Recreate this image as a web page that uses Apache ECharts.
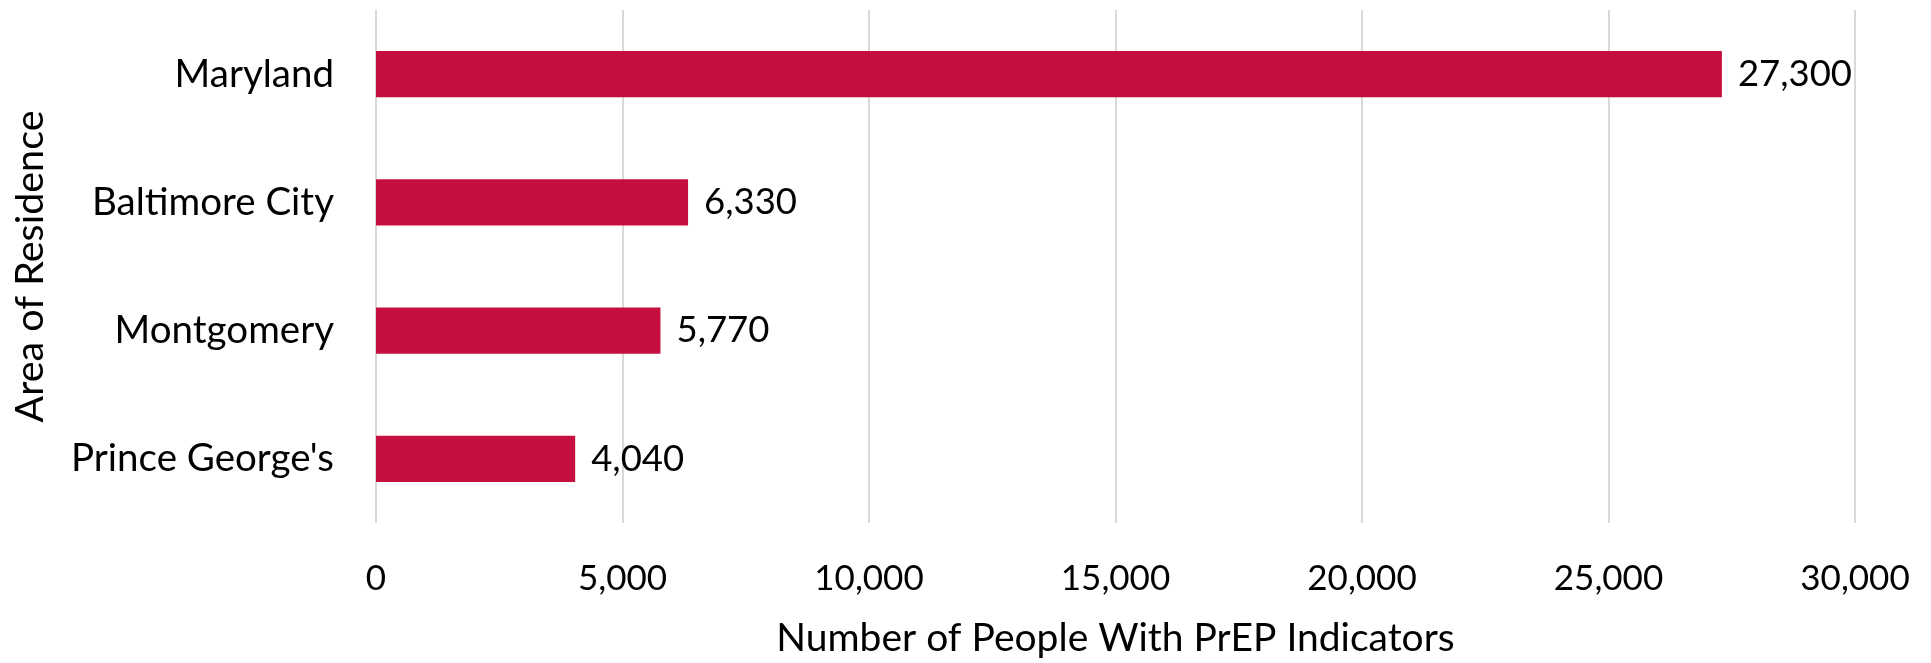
<!DOCTYPE html>
<html>
<head>
<meta charset="utf-8">
<script src="https://cdn.jsdelivr.net/npm/echarts@6/dist/echarts.min.js"></script>
<style>
html,body{margin:0;padding:0;background:#fff;}
#chart{width:1931px;height:663px;}
</style>
</head>
<body>
<div id="chart"></div>
<script>
const categories = ["Maryland", "Baltimore City", "Montgomery", "Prince George's"];
const values = [27300, 6330, 5770, 4040];
const xTicks = { min: 0, max: 30000, interval: 5000 };
const xTitle = "Number of People With PrEP Indicators";
const yTitle = "Area of Residence";

const fmt = v => v.toLocaleString('en-US');
const FONT = 'Lato';
const chart = echarts.init(document.getElementById('chart'));
chart.setOption({
  animation: false,
  backgroundColor: '#fff',
  grid: { left: 376, right: 76, top: 10, bottom: 135, containLabel: false },
  xAxis: {
    type: 'value',
    min: xTicks.min, max: xTicks.max, interval: xTicks.interval,
    axisLine: { show: false },
    axisTick: { show: false },
    splitLine: { show: true, lineStyle: { color: '#d9d9d9', width: 2 } },
    axisLabel: { formatter: fmt, fontFamily: FONT, fontSize: 35, color: '#000', margin: 38 },
    name: xTitle, nameLocation: 'middle', nameGap: 96,
    nameTextStyle: { fontFamily: FONT, fontSize: 39, color: '#000' }
  },
  yAxis: {
    type: 'category',
    data: categories,
    inverse: true,
    axisLine: { show: false },
    axisTick: { show: false },
    axisLabel: { fontFamily: FONT, fontSize: 38.5, color: '#000', margin: 42 },
    name: yTitle, nameLocation: 'middle', nameGap: 326, nameRotate: 90,
    nameTextStyle: { fontFamily: FONT, fontSize: 39.5, color: '#000' }
  },
  series: [{
    type: 'bar',
    data: values,
    barWidth: '36%',
    itemStyle: { color: '#C5103F' },
    label: {
      show: true, position: 'right', distance: 16,
      formatter: p => fmt(p.value),
      fontFamily: FONT, fontSize: 36.5, color: '#000'
    }
  }]
});
</script>
</body>
</html>
